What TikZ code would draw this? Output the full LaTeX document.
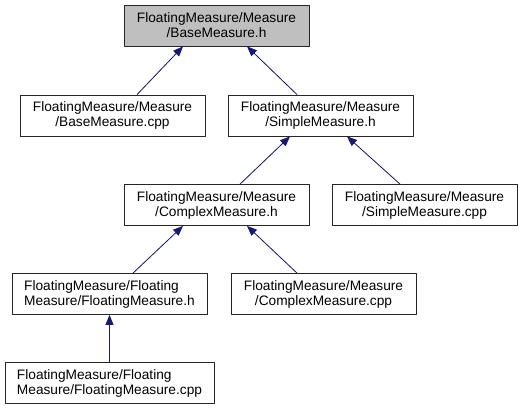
\documentclass[tikz,border=0pt]{standalone}
\usepackage{fontspec}
\setmainfont{Liberation Sans}
\usetikzlibrary{arrows.meta}
\definecolor{edgeblue}{RGB}{25,25,112}
\definecolor{rootgray}{RGB}{191,191,191}
\begin{document}
\begin{tikzpicture}[x=1pt,y=-1pt,line join=round,>={Triangle[length=10pt,width=8pt]},
  file/.style={draw=black!85,line width=0.8pt,fill=white,minimum height=41pt,inner sep=0pt,
    align=center,font=\fontsize{13.7}{15}\selectfont},
  dep/.style={<-,draw=edgeblue,fill=edgeblue,line width=0.8pt}]
\useasboundingbox (0,0) rectangle (529,409);

    \node[file,fill=rootgray,minimum width=185pt] (baseh) at (216.5,25.5) {FloatingMeasure/Measure\\/BaseMeasure.h};
    \node[file,minimum width=185pt] (basecpp) at (112.5,115.5) {FloatingMeasure/Measure\\/BaseMeasure.cpp};
    \node[file,minimum width=185pt] (simpleh) at (320.5,115.5) {FloatingMeasure/Measure\\/SimpleMeasure.h};
    \node[file,minimum width=185pt] (complexh) at (216.5,205) {FloatingMeasure/Measure\\/ComplexMeasure.h};
    \node[file,minimum width=185pt] (simplecpp) at (424.5,205) {FloatingMeasure/Measure\\/SimpleMeasure.cpp};
    \node[file,minimum width=195pt,align=left] (floath) at (109.5,294) {FloatingMeasure/Floating\\Measure/FloatingMeasure.h};
    \node[file,minimum width=185pt] (complexcpp) at (323.5,294) {FloatingMeasure/Measure\\/ComplexMeasure.cpp};
    \node[file,minimum width=209pt,align=left] (floatcpp) at (109.5,383) {FloatingMeasure/Floating\\Measure/FloatingMeasure.cpp};

\draw[dep]([xshift=-33.5pt]baseh.south)--([xshift=24.5pt]basecpp.north);
\draw[dep]([xshift=30.5pt]baseh.south)--([xshift=-23.5pt]simpleh.north);
\draw[dep]([xshift=-30.5pt]simpleh.south)--([xshift=23.5pt]complexh.north);
\draw[dep]([xshift=26.5pt]simpleh.south)--([xshift=-24.5pt]simplecpp.north);
\draw[dep]([xshift=-33.5pt]complexh.south)--([xshift=23.5pt]floath.north);
\draw[dep]([xshift=30.5pt]complexh.south)--([xshift=-26.5pt]complexcpp.north);
\draw[dep](floath.south)--(floatcpp.north);
  \end{tikzpicture}
\end{document}
